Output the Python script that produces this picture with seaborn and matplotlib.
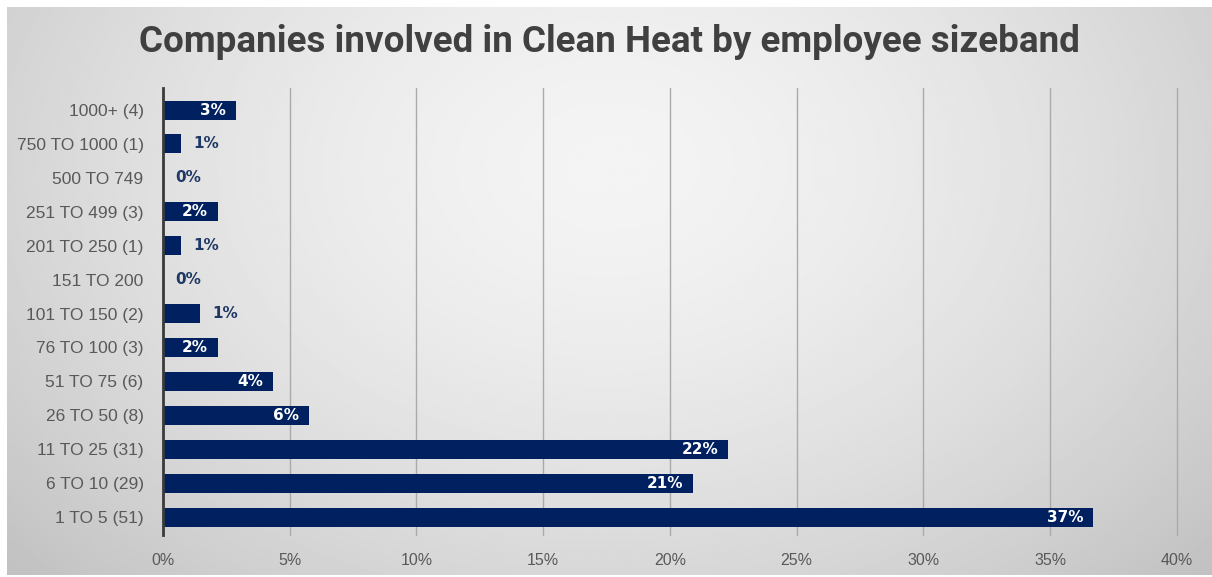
import numpy as np
import pandas as pd
import matplotlib
matplotlib.use("Agg")
import matplotlib.pyplot as plt
from matplotlib import font_manager
import seaborn as sns

# Employee size bands (top to bottom) and share of companies in each (%)
sizebands = [
    "1000+ (4)", "750 TO 1000 (1)", "500 TO 749", "251 TO 499 (3)",
    "201 TO 250 (1)", "151 TO 200", "101 TO 150 (2)", "76 TO 100 (3)",
    "51 TO 75 (6)", "26 TO 50 (8)", "11 TO 25 (31)", "6 TO 10 (29)",
    "1 TO 5 (51)",
]
share_pct = [2.88, 0.72, 0.0, 2.16, 0.72, 0.0, 1.44, 2.16,
             4.32, 5.76, 22.3, 20.9, 36.7]
x_ticks = [0, 5, 10, 15, 20, 25, 30, 35, 40]
title = "Companies involved in Clean Heat by employee sizeband"

df = pd.DataFrame({"band": sizebands, "share": share_pct})

sns.set_theme(style="white")
names = {f.name for f in font_manager.fontManager.ttflist}
narrow = "Liberation Sans Narrow" if "Liberation Sans Narrow" in names else "Liberation Sans"
plt.rcParams["font.family"] = [narrow, "DejaVu Sans"]

NAVY = "#002060"
fig = plt.figure(figsize=(12.12, 5.77), dpi=100)

# Soft radial grey backdrop
bg = fig.add_axes([7 / 1212, 2 / 577, 1 - 7 / 1212, 1 - 9 / 577], zorder=-10)
yy, xx = np.mgrid[0:1:300j, 0:1:600j]
r = np.sqrt(((xx - 0.5) / 0.62) ** 2 + ((yy - 0.28) / 0.95) ** 2)
shade = np.clip(0.955 - 0.17 * r ** 1.6, 0.76, 0.96)
bg.imshow(shade, cmap="gray", vmin=0, vmax=1, aspect="auto",
          extent=[0, 1, 1, 0], interpolation="bilinear")
bg.axis("off")

ax = fig.add_axes([163 / 1212, 42 / 577, (1177 - 163) / 1212, (535 - 88) / 577])
ax.patch.set_alpha(0)
sns.barplot(data=df, x="share", y="band", order=sizebands, color=NAVY,
            saturation=1, width=0.56, orient="h", ax=ax, zorder=3,
            linewidth=0)

ax.set_xlim(0, 40)
ax.set_ylim(len(sizebands) - 1 + 0.53, -0.65)
ax.set_xticks(x_ticks)
ax.set_xticklabels([f"{t}%" for t in x_ticks])
ax.set_xlabel("")
ax.set_ylabel("")
ax.tick_params(axis="x", length=0, pad=13, labelsize=11.5, labelcolor="#595959")
ax.tick_params(axis="y", length=0, pad=14, labelsize=12.5, labelcolor="#595959")
for t in x_ticks[1:]:
    ax.axvline(t, color="#aaaaaa", lw=1.0, zorder=1, clip_on=False)
for s in ["top", "right", "bottom"]:
    ax.spines[s].set_visible(False)
ax.spines["left"].set_color("#3a3a3a")
ax.spines["left"].set_linewidth(2)
ax.spines["left"].set_zorder(5)

# Value labels: inside the bar end when it fits, otherwise just past it
for i, v in enumerate(share_pct):
    label = f"{round(v):.0f}%"
    if v >= 2.0:
        ax.annotate(label, (v, i), xytext=(-7, 0), textcoords="offset points",
                    ha="right", va="center", color="white", fontsize=11,
                    fontweight="bold", family=["DejaVu Sans"], zorder=6)
    else:
        ax.annotate(label, (v, i), xytext=(9, 0), textcoords="offset points",
                    ha="left", va="center", color="#1f3864", fontsize=11,
                    fontweight="bold", family=["DejaVu Sans"], zorder=6)

fig.text(0.503, 1 - 42 / 577, title, ha="center", va="center",
         fontsize=26.5, fontweight="bold", color="#404040",
         family=["Roboto", "DejaVu Sans"])

fig.savefig("out.png", dpi=100)
